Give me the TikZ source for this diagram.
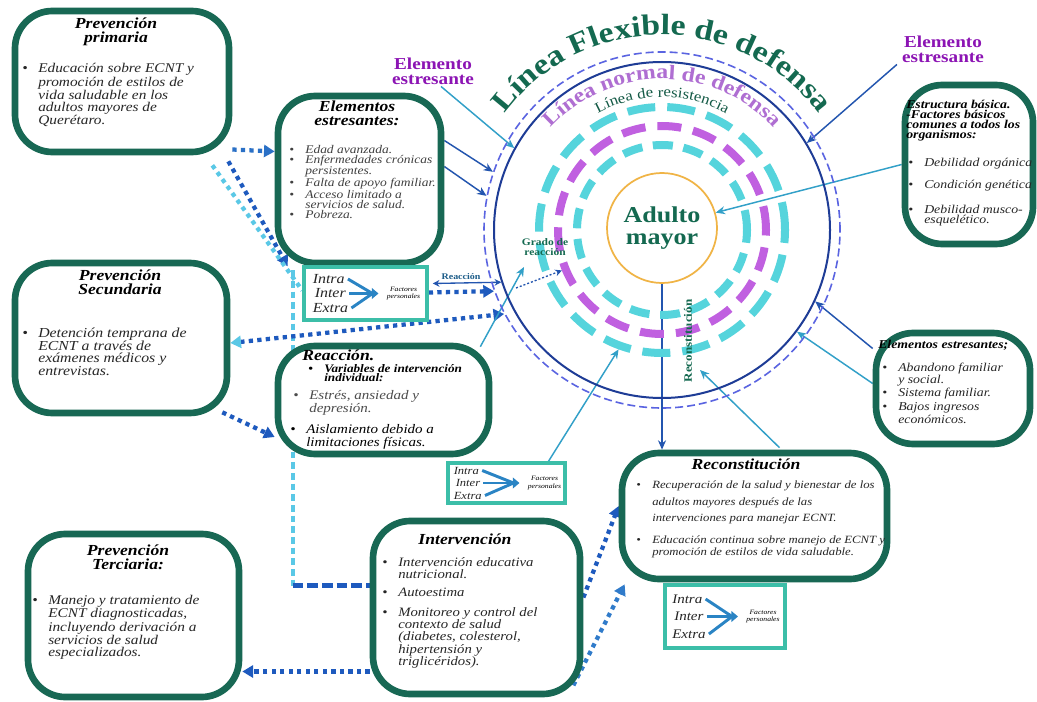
\documentclass[tikz,border=0pt]{standalone}
\usepackage{fontspec}
\setmainfont{Liberation Serif}[FakeStretch=1.15]
\usetikzlibrary{arrows.meta,calc,decorations.text}
\pgfdeclarelayer{bg}
\pgfsetlayers{bg,main}

\definecolor{boxgreen}{RGB}{24,104,84}
\definecolor{framecyan}{RGB}{60,190,168}
\definecolor{ringcyan}{RGB}{85,212,220}
\definecolor{ringpurple}{RGB}{192,96,224}
\definecolor{navy}{RGB}{30,60,150}
\definecolor{periwinkle}{RGB}{90,100,225}
\definecolor{flexgreen}{RGB}{20,105,80}
\definecolor{normpurple}{RGB}{175,110,210}
\definecolor{resgreen}{RGB}{20,90,70}
\definecolor{stressviolet}{RGB}{140,20,180}
\definecolor{linkteal}{RGB}{50,160,200}
\definecolor{linkblue}{RGB}{35,85,175}
\definecolor{dotblue}{RGB}{30,90,190}
\definecolor{dotcyan}{RGB}{90,200,230}
\definecolor{adultorange}{RGB}{240,180,70}

\newcommand{\bul}{\makebox[12pt][l]{\textbullet}}
\newcommand{\ind}{\hspace*{12pt}}
% Intra / Inter / Extra -> Factores personales
\newcommand{\factores}[3]{%
  \node[fword, font=\itshape\fontsize{#3}{#3}\selectfont] (#1in) at ($(#1.center)+(-53,-#2)$) {Intra};
  \node[fword, font=\itshape\fontsize{#3}{#3}\selectfont] (#1it) at ($(#1.center)+(-51,0)$) {Inter};
  \node[fword, font=\itshape\fontsize{#3}{#3}\selectfont] (#1ex) at ($(#1.center)+(-53,#2)$) {Extra};
  \coordinate (#1tip) at ($(#1.center)+(13,0)$);
  \draw[fanarrow] ($(#1in.east)+(3,0)$) -- ($(#1tip)+(-6,0)$);
  \draw[fanarrow] ($(#1ex.east)+(3,0)$) -- ($(#1tip)+(-6,0)$);
  \draw[fanarrow, -{Triangle[length=5pt,width=8pt]}] ($(#1it.east)+(3,0)$) -- (#1tip);
  \node[ftag] (#1tag) at ($(#1.center)+(38,0)$) {Factores\\personales};
}

\begin{document}
\begin{tikzpicture}[x=0.75pt, y=-0.75pt,
  cbox/.style={draw=boxgreen, line width=5pt, rounded corners=28pt, fill=white, inner sep=0pt},
  fbox/.style={draw=framecyan, line width=2.6pt, fill=white, inner sep=0pt},
  ttl/.style={font=\bfseries\itshape\fontsize{11.5}{10.5}\selectfont, align=center, inner sep=0pt},
  txt/.style={font=\itshape\fontsize{10}{8.8}\selectfont, align=left, inner sep=0pt, text=black!85},
  fword/.style={anchor=west, inner sep=0pt, text=black!85},
  ftag/.style={font=\itshape\fontsize{5}{5.5}\selectfont, align=center, inner sep=0pt},
  fanarrow/.style={line width=2.2pt, draw=linkteal!60!dotblue},
  stresslbl/.style={font=\bfseries\fontsize{12.5}{11}\selectfont, text=stressviolet, align=center, inner sep=0pt},
  smalllbl/.style={font=\bfseries\fontsize{7.5}{7}\selectfont, text=flexgreen, align=center, inner sep=0pt},
  ring/.style={circle, inner sep=0pt, line width=6pt},
  dotline/.style={line width=3.2pt, dash pattern=on 3.2pt off 3.2pt},
  dotarrow/.style={dotline, -{Triangle[length=8pt,width=9pt]}},
  thinarrow/.style={line width=1.1pt, -{Stealth[length=7pt,width=6pt]}}]
\useasboundingbox (0,0) rectangle (1037,702);

% lines of defence
\coordinate (ctr) at (662,230);
\node[ring, draw=ringcyan, minimum size=184.5pt, dash pattern=on 21pt off 9pt] (ringout) at (ctr) {};
\node[ring, draw=ringpurple, minimum size=156pt, dash pattern=on 18pt off 9pt] (ringmid) at (ctr) {};
\node[ring, draw=ringcyan, minimum size=127.5pt, dash pattern=on 15pt off 8pt] (ringin) at (ctr) {};
\node[circle, inner sep=0pt, draw=navy, line width=1.5pt, minimum size=252pt] (normal) at (ctr) {};
\node[circle, inner sep=0pt, draw=periwinkle, line width=1.2pt, dash pattern=on 6pt off 3pt, minimum size=267pt] (flexible) at (ctr) {};
\node[circle, draw=adultorange, line width=1.3pt, fill=white, minimum size=82.5pt, inner sep=0pt,
  font=\bfseries\fontsize{17}{16}\selectfont, text=flexgreen, align=center] (adulto) at (662,228) {Adulto\\mayor};

\path[decorate, decoration={text along path, text align=center, text color=flexgreen,
  text={|\bfseries\fontsize{22}{22}\selectfont|Línea Flexible de defensa}}]
  ([shift={(200:195)}]ctr) arc[start angle=200, end angle=340, radius=195];
\path[decorate, decoration={text along path, text align=center, text color=normpurple,
  text={|\bfseries\fontsize{15.5}{15.5}\selectfont|Línea normal de defensa}}]
  ([shift={(190:151)}]ctr) arc[start angle=190, end angle=350, radius=151];
\path[decorate, decoration={text along path, text align=center, text color=resgreen,
  text={|\fontsize{11}{11}\selectfont|Línea de resistencia}}]
  ([shift={(205:133)}]ctr) arc[start angle=205, end angle=335, radius=133];

% boxes
\node[cbox, minimum width=160.5pt, minimum height=105.75pt] (primaria) at (122,81.5) {};
\node[cbox, minimum width=122.25pt, minimum height=125.25pt] (estres) at (359.5,179.5) {};
\node[cbox, minimum width=159pt, minimum height=112.5pt] (secundaria) at (121,338) {};
\node[cbox, minimum width=158.25pt, minimum height=81pt] (reaccion) at (383.5,400) {};
\node[cbox, minimum width=158.25pt, minimum height=122.25pt] (terciaria) at (133.5,615.5) {};
\node[cbox, minimum width=155.25pt, minimum height=129.75pt] (intervencion) at (476.5,607.5) {};
\node[cbox, minimum width=198.75pt, minimum height=94.5pt] (reconst) at (754.5,516) {};
\node[cbox, minimum width=96pt, minimum height=119.25pt] (estructura) at (969,164.5) {};
\node[cbox, minimum width=115.5pt, minimum height=83.25pt] (estresR) at (953,388.5) {};
\node[fbox, minimum width=92.25pt, minimum height=39.75pt] (intraA) at (365.5,293.5) {};
\node[fbox, minimum width=87.75pt, minimum height=30pt] (intraB) at (506.5,483) {};
\node[fbox, minimum width=90pt, minimum height=47.25pt] (intraC) at (725,616.5) {};

\factores{intraA}{14.5}{10.4}
\factores{intraB}{12.5}{8.2}
\factores{intraC}{17.5}{9.8}

% box texts
\node[ttl, anchor=north] (primariaT) at (116,18) {Prevención\\primaria};
\node[txt, anchor=north west] (primariaB) at (22,63) {\bul Educación sobre ECNT y\\\ind promoción de estilos de\\\ind vida saludable en los\\\ind adultos mayores de\\\ind Querétaro.};

\node[ttl, anchor=north] (estresT) at (357,101) {Elementos\\estresantes:};
\node[txt, anchor=north west, font=\itshape\fontsize{8.8}{7.3}\selectfont, text=black!75] (estresB) at (289,145) {\bul Edad avanzada.\\\bul Enfermedades crónicas\\\ind persistentes.\\\bul Falta de apoyo familiar.\\\bul Acceso limitado a\\\ind servicios de salud.\\\bul Pobreza.};

\node[ttl, anchor=north] (secundariaT) at (120,270) {Prevención\\Secundaria};
\node[txt, anchor=north west, font=\itshape\fontsize{10.3}{9.4}\selectfont] (secundariaB) at (22,328) {\bul Detención temprana de\\\ind ECNT a través de\\\ind exámenes médicos y\\\ind entrevistas.};

\node[ttl, anchor=north west] (reaccionT) at (302,350) {Reacción.};
\node[txt, anchor=north west, font=\bfseries\itshape\fontsize{8.6}{7.3}\selectfont, text=black] (reaccionV) at (308,364) {\bul Variables de intervención\\\ind individual:};
\node[txt, anchor=north west, font=\itshape\fontsize{9.8}{9.6}\selectfont, text=black!70] (reaccionE) at (293,390) {\bul Estrés, ansiedad y\\\ind depresión.};
\node[txt, anchor=north west, font=\itshape\fontsize{9.8}{9.6}\selectfont, text=black] (reaccionA) at (290,424) {\bul Aislamiento debido a\\\ind limitaciones físicas.};

\node[ttl, anchor=north] (terciariaT) at (128,545) {Prevención\\Terciaria:};
\node[txt, anchor=north west, font=\itshape\fontsize{10}{8.8}\selectfont] (terciariaB) at (32,595) {\bul Manejo y tratamiento de\\\ind ECNT diagnosticadas,\\\ind incluyendo derivación a\\\ind servicios de salud\\\ind especializados.};

\node[ttl, anchor=north] (intervencionT) at (465,534) {Intervención};
\node[txt, anchor=north west, font=\itshape\fontsize{9.6}{9.2}\selectfont] (intervencionB) at (382,557) {\bul Intervención educativa\\\ind nutricional.\\[4pt]\bul Autoestima\\[6pt]\bul Monitoreo y control del\\\ind contexto de salud\\\ind (diabetes, colesterol,\\\ind hipertensión y\\\ind triglicéridos).};

\node[ttl, anchor=north, font=\bfseries\itshape\fontsize{11.5}{11}\selectfont] (reconstT) at (746,459) {Reconstitución};
\node[txt, anchor=north west, font=\itshape\fontsize{8.3}{12.3}\selectfont] (reconstB) at (636,481) {\bul Recuperación de la salud y bienestar de los\\\ind adultos mayores después de las\\\ind intervenciones para manejar ECNT.};
\node[txt, anchor=north west, font=\itshape\fontsize{8.3}{6.8}\selectfont] (reconstC) at (636,536) {\bul Educación continua sobre manejo de ECNT y\\\ind promoción de estilos de vida saludable.};

\node[txt, anchor=north west, font=\bfseries\itshape\fontsize{9}{7.5}\selectfont, text=black] (estructuraT) at (906,100) {Estructura básica.\\-Factores básicos\\comunes a todos los\\organismos:};
\node[txt, anchor=north west, font=\itshape\fontsize{9}{7.5}\selectfont] (estructuraB) at (908,158) {\bul Debilidad orgánica\\[7.5pt]\bul Condición genética\\[9.5pt]\bul Debilidad musco-\\\ind esquelético.};

\node[txt, anchor=north west, font=\bfseries\itshape\fontsize{9}{7.5}\selectfont, text=black] (estresRT) at (878,340) {Elementos estresantes;};
\node[txt, anchor=north west, font=\itshape\fontsize{9}{7.5}\selectfont] (estresRB) at (882,363) {\bul Abandono familiar\\\ind y social.\\\bul Sistema familiar.\\[2pt]\bul Bajos ingresos\\\ind económicos.};

% labels
\node[stresslbl] (estresLblL) at (433,71) {Elemento\\estresante};
\node[stresslbl] (estresLblR) at (943,49) {Elemento\\estresante};
\node[smalllbl] (grado) at (545,247) {Grado de\\reacción};
\node[smalllbl, font=\bfseries\fontsize{6.5}{6.5}\selectfont, text=linkblue!60!flexgreen] (reacLbl) at (461,277) {Reacción};
\node[smalllbl, rotate=90, font=\bfseries\fontsize{8.5}{8.5}\selectfont] (reconstLbl) at (688,341) {Reconstitución};

\coordinate (gradoFrom) at (516,288);
\coordinate (hitReac) at (524,267);
\coordinate (hitRec) at (700,370);
\coordinate (dTop) at ($(estres.south west)+(18,4)$);
\coordinate (dEnd) at ($(intervencion.west)+(0,-22)$);

% connectors
\begin{pgfonlayer}{bg}
\fill[white] (0,0) rectangle (1037,702);
\draw[dotarrow, dotblue!80!dotcyan] ($(primaria.east)+(0,68)$) -- ($(estres.west)+(0,-28)$);
\draw[dotarrow, dotblue] ($(primaria.south east)+(-4,6)$) -- ($(estres.south west)+(13,0)$);
\draw[dotline, dotcyan] ($(primaria.south east)+(-20,10)$) -- ($(intraA.west)+(0,-3)$);
\draw[dotline, dotcyan, dash pattern=on 5pt off 3pt] (dTop) -- (dTop |- dEnd);
\draw[dotline, dotblue, dash pattern=on 8pt off 3pt] (dTop |- dEnd) -- (dEnd);
\draw[dotarrow, dotblue] ($(intraA.east)+(0,-1)$) -- (flexible.-160);
\draw[dotline, dotblue, {Triangle[length=8pt,width=9pt,color=dotcyan]}-{Triangle[length=8pt,width=9pt]}] ($(secundaria.east)+(0,5)$) -- (flexible.-152);
\draw[linkblue, line width=1pt, {Stealth[length=5pt,width=5pt]}-{Stealth[length=5pt,width=5pt]}] ($(intraA.east)+(4,-10)$) -- (normal.-162);
\draw[dotarrow, dotblue] ($(secundaria.south east)+(-8,-4)$) -- ($(reaccion.west)+(0,37)$);
\draw[dotarrow, dotblue] ($(intervencion.west)+(0,64)$) -- ($(terciaria.east)+(0,56)$);
\draw[dotarrow, dotblue] ($(intervencion.east)+(0,-10)$) -- ($(reconst.west)+(0,-10)$);
\draw[dotarrow, dotblue!70!dotcyan] ($(intervencion.south east)+(-10,-12)$) -- ($(reconst.south west)+(6,2)$);

\draw[thinarrow, linkteal] ($(estresLblL.south)+(8,2)$) -- (normal.151);
\draw[thinarrow, linkblue] ($(estres.east)+(0,-39)$) -- (flexible.161);
\draw[thinarrow, linkblue] ($(estres.east)+(0,-13)$) -- (flexible.169);
\draw[thinarrow, linkblue] ($(estresLblR.south west)+(-5,2)$) -- (normal.31);
\draw[thinarrow, linkteal] (estructura.west) -- (adulto.16);
\draw[thinarrow, linkblue] ($(estresR.west)+(0,-40)$) -- (normal.-25);
\draw[thinarrow, linkteal] ($(estresR.west)+(0,-5)$) -- (normal.-37);
\draw[thinarrow, linkteal] ($(reconst.north)+(25,-2)$) -- (hitRec);
\draw[thinarrow, linkteal] ($(reaccion.north east)+(-12,4)$) -- (hitReac);
\draw[thinarrow, linkteal] ($(intraB.north)+(42,0)$) -- (ringout.-110);
\draw[linkblue, line width=1pt, dash pattern=on 1.5pt off 1.5pt, -{Stealth[length=5pt,width=5pt]}] (gradoFrom) -- (ringmid.-158);
\draw[thinarrow, linkblue] (adulto.south) -- (adulto.south |- reconst.north);
\end{pgfonlayer}
\end{tikzpicture}
\end{document}
